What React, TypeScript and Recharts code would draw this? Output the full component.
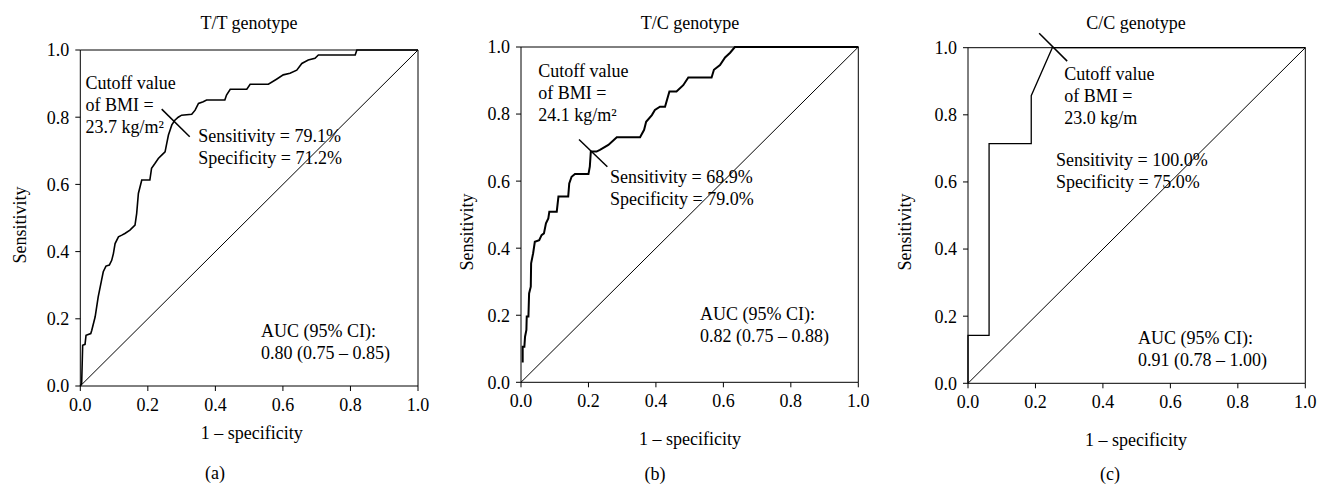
import { LineChart, Line, XAxis, YAxis, ReferenceLine } from 'recharts';

const FONT = '"Liberation Serif", "Times New Roman", serif';

const axisTicks = [0, 0.2, 0.4, 0.6, 0.8, 1.0];
const diagonal: [number, number][] = [[0, 0], [1, 1]];

// ROC curve points: [1 - specificity, sensitivity]
const ttCurve: [number, number][] = [
  [0, 0], [0.004, 0.007], [0.007, 0.121], [0.014, 0.124], [0.017, 0.151], [0.031, 0.156],
  [0.034, 0.166], [0.044, 0.206], [0.053, 0.265], [0.063, 0.315], [0.068, 0.34], [0.076, 0.357],
  [0.086, 0.36], [0.093, 0.374], [0.098, 0.394], [0.103, 0.424], [0.113, 0.444], [0.123, 0.449],
  [0.132, 0.454], [0.147, 0.464], [0.162, 0.479], [0.167, 0.514], [0.172, 0.573], [0.177, 0.593],
  [0.182, 0.613], [0.206, 0.613], [0.211, 0.648], [0.221, 0.662], [0.231, 0.677], [0.241, 0.687],
  [0.251, 0.697], [0.256, 0.722], [0.261, 0.747], [0.266, 0.762], [0.271, 0.777], [0.28, 0.791],
  [0.29, 0.8], [0.3, 0.806], [0.33, 0.809], [0.34, 0.821], [0.35, 0.841], [0.364, 0.846],
  [0.374, 0.851], [0.428, 0.851], [0.433, 0.866], [0.444, 0.883], [0.493, 0.883], [0.503, 0.898],
  [0.557, 0.898], [0.581, 0.913], [0.601, 0.926], [0.621, 0.931], [0.641, 0.94], [0.656, 0.96],
  [0.675, 0.97], [0.695, 0.975], [0.705, 0.985], [0.814, 0.985], [0.819, 1], [1, 1],
];

const tcCurve: [number, number][] = [
  [0.005, 0.059], [0.005, 0.106], [0.01, 0.106], [0.012, 0.136], [0.016, 0.156], [0.017, 0.196],
  [0.022, 0.196], [0.024, 0.265], [0.029, 0.285], [0.03, 0.355], [0.036, 0.385], [0.041, 0.419],
  [0.054, 0.424], [0.061, 0.439], [0.068, 0.444], [0.074, 0.474], [0.081, 0.489], [0.084, 0.509],
  [0.106, 0.509], [0.111, 0.554], [0.14, 0.554], [0.143, 0.593], [0.15, 0.613], [0.16, 0.621],
  [0.2, 0.621], [0.204, 0.643], [0.207, 0.688], [0.224, 0.688], [0.234, 0.693], [0.259, 0.708],
  [0.284, 0.731], [0.353, 0.731], [0.365, 0.753], [0.371, 0.777], [0.388, 0.797], [0.397, 0.812],
  [0.412, 0.822], [0.427, 0.822], [0.44, 0.867], [0.461, 0.867], [0.481, 0.886], [0.496, 0.909],
  [0.565, 0.909], [0.572, 0.932], [0.59, 0.946], [0.605, 0.969], [0.62, 0.983], [0.634, 1], [1, 1],
];

const ccCurve: [number, number][] = [
  [0, 0], [0, 0.143], [0.0625, 0.143], [0.0625, 0.714], [0.1875, 0.714], [0.1875, 0.857],
  [0.25, 1], [1, 1],
];

// short tick mark crossing the curve at the cutoff point
const ttCutoff: [number, number][] = [[0.241, 0.824], [0.324, 0.742]];
const tcCutoff: [number, number][] = [[0.172, 0.724], [0.256, 0.643]];
const ccCutoff: [number, number][] = [[0.211, 1.043], [0.294, 0.96]];

const toRows = (pts: [number, number][]) => pts.map(([x, y]) => ({ x, y }));

interface TextItem {
  text: string;
  x: number;
  y: number;
  center?: boolean;
  rotate?: boolean;
}

interface PanelDef {
  id: string;
  curve: [number, number][];
  cutoff: [number, number][];
  curveWidth: number;
  chartLeft: number;
  plot: { x0: number; x1: number; y0: number; y1: number };
  texts: TextItem[];
}

const panels: PanelDef[] = [
  {
    id: 'a',
    curve: ttCurve,
    cutoff: ttCutoff,
    curveWidth: 1.6,
    chartLeft: 0,
    plot: { x0: 80.3, x1: 418, y0: 50, y1: 386 },
    texts: [
      { text: 'T/T genotype', x: 249, y: 23, center: true },
      { text: 'Cutoff value\nof BMI =\n23.7 kg/m²', x: 85.5, y: 83 },
      { text: 'Sensitivity = 79.1%\nSpecificity = 71.2%', x: 198.3, y: 136 },
      { text: 'AUC (95% CI):\n0.80 (0.75 – 0.85)', x: 261, y: 331 },
      { text: '1 – specificity', x: 251.7, y: 433, center: true },
      { text: 'Sensitivity', x: 20, y: 225, center: true, rotate: true },
      { text: '(a)', x: 215, y: 473, center: true },
    ],
  },
  {
    id: 'b',
    curve: tcCurve,
    cutoff: tcCutoff,
    curveWidth: 2,
    chartLeft: 440,
    plot: { x0: 521, x1: 858.3, y0: 47, y1: 382.3 },
    texts: [
      { text: 'T/C genotype', x: 690, y: 22.7, center: true },
      { text: 'Cutoff value\nof BMI =\n24.1 kg/m²', x: 538.3, y: 71 },
      { text: 'Sensitivity = 68.9%\nSpecificity = 79.0%', x: 610, y: 176.7 },
      { text: 'AUC (95% CI):\n0.82 (0.75 – 0.88)', x: 700, y: 314 },
      { text: '1 – specificity', x: 690, y: 439, center: true },
      { text: 'Sensitivity', x: 466.7, y: 231.7, center: true, rotate: true },
      { text: '(b)', x: 655, y: 474, center: true },
    ],
  },
  {
    id: 'c',
    curve: ccCurve,
    cutoff: ccCutoff,
    curveWidth: 1.3,
    chartLeft: 877,
    plot: { x0: 968, x1: 1305.3, y0: 47.7, y1: 383.3 },
    texts: [
      { text: 'C/C genotype', x: 1136, y: 22.7, center: true },
      { text: 'Cutoff value\nof BMI =\n23.0 kg/m', x: 1064.3, y: 74 },
      { text: 'Sensitivity = 100.0%\nSpecificity = 75.0%', x: 1056, y: 160 },
      { text: 'AUC (95% CI):\n0.91 (0.78 – 1.00)', x: 1138, y: 337.7 },
      { text: '1 – specificity', x: 1136, y: 440, center: true },
      { text: 'Sensitivity', x: 905, y: 231.7, center: true, rotate: true },
      { text: '(c)', x: 1110, y: 474, center: true },
    ],
  },
];

const CHART_W = 440;
const CHART_H = 485;
const Y_AXIS_W = 60;
const X_AXIS_H = 30;
const LINE_H = 22;

function Txt({ item }: { item: TextItem }) {
  const style: React.CSSProperties = {
    position: 'absolute',
    left: item.x,
    top: item.center ? item.y : item.y - LINE_H / 2,
    fontFamily: FONT,
    fontSize: 18,
    lineHeight: `${LINE_H}px`,
    color: '#000',
    whiteSpace: 'pre',
  };
  if (item.center) {
    style.transform = `translate(-50%, -50%)${item.rotate ? ' rotate(-90deg)' : ''}`;
  }
  return <div style={style}>{item.text}</div>;
}

function RocPanel({ p }: { p: PanelDef }) {
  const margin = {
    top: p.plot.y0,
    left: p.plot.x0 - p.chartLeft - Y_AXIS_W,
    right: p.chartLeft + CHART_W - p.plot.x1,
    bottom: CHART_H - p.plot.y1 - X_AXIS_H,
  };
  const tick = { fill: '#000', fontSize: 18, fontFamily: FONT };
  const seg = p.cutoff.map(([x, y]) => ({ x, y }));
  return (
    <div style={{ position: 'absolute', left: p.chartLeft, top: 0 }}>
      <LineChart width={CHART_W} height={CHART_H} margin={margin}>
        <XAxis
          dataKey="x"
          type="number"
          domain={[0, 1]}
          ticks={axisTicks}
          interval={0}
          tickFormatter={(v: number) => v.toFixed(1)}
          height={X_AXIS_H}
          tick={tick}
          tickSize={5}
          tickMargin={7}
          axisLine={{ stroke: '#000' }}
          tickLine={{ stroke: '#000' }}
        />
        <YAxis
          dataKey="y"
          type="number"
          domain={[0, 1]}
          ticks={axisTicks}
          interval={0}
          tickFormatter={(v: number) => v.toFixed(1)}
          width={Y_AXIS_W}
          tick={tick}
          tickSize={5}
          tickMargin={6}
          axisLine={{ stroke: '#000' }}
          tickLine={{ stroke: '#000' }}
        />
        <ReferenceLine y={1} stroke="#000" strokeWidth={1} />
        <ReferenceLine x={1} stroke="#000" strokeWidth={1} />
        <Line
          data={toRows(diagonal)}
          dataKey="y"
          type="linear"
          stroke="#000"
          strokeWidth={1}
          dot={false}
          activeDot={false}
          isAnimationActive={false}
        />
        <Line
          data={toRows(p.curve)}
          dataKey="y"
          type="linear"
          stroke="#000"
          strokeWidth={p.curveWidth}
          dot={false}
          activeDot={false}
          isAnimationActive={false}
        />
        <ReferenceLine segment={seg} stroke="#000" strokeWidth={1.5} ifOverflow="visible" />
      </LineChart>
      {p.texts.map((t, i) => (
        <div key={i} style={{ position: 'absolute', left: -p.chartLeft, top: 0 }}>
          <Txt item={t} />
        </div>
      ))}
    </div>
  );
}

export default function App() {
  return (
    <div
      style={{
        position: 'absolute',
        left: 0,
        top: 0,
        width: 1317,
        height: 485,
        background: '#fff',
        overflow: 'hidden',
      }}
    >
      {panels.map((p) => (
        <RocPanel key={p.id} p={p} />
      ))}
    </div>
  );
}
